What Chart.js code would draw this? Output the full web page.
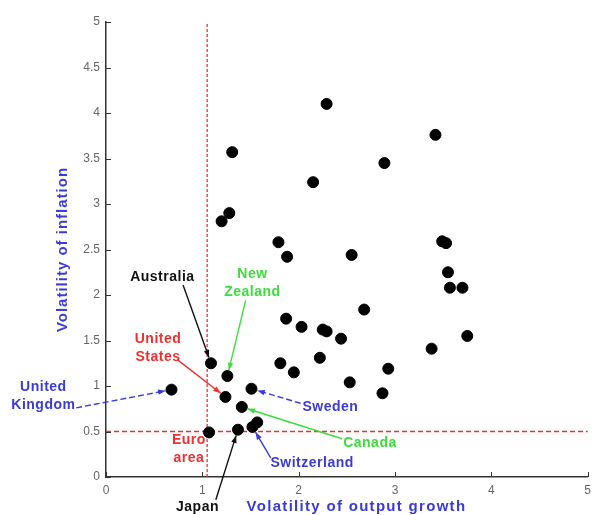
<!DOCTYPE html>
<html>
<head>
<meta charset="utf-8">
<script src="https://cdn.jsdelivr.net/npm/chart.js@4.4.0/dist/chart.umd.min.js"></script>
<style>
  html, body { margin: 0; padding: 0; background: #fff; }
  #wrap { width: 597px; height: 515px; }
</style>
</head>
<body>
<div id="wrap"><canvas id="scatter"></canvas></div>
<script>
// volatility of output growth (x) and of inflation (y), one entry per country
const outputVol = [0.68, 1.07, 1.09, 1.26, 1.24, 1.41, 1.37, 1.51, 1.52, 1.57,
    1.20, 1.28, 1.31, 1.79, 1.88, 1.87, 2.03, 1.81, 1.95, 2.15,
    2.29, 2.55, 2.22, 2.25, 2.29, 2.44, 2.68, 2.53, 2.87, 2.93,
    2.89, 3.42, 3.49, 3.53, 3.55, 3.57, 3.70, 3.75, 3.38];
const inflationVol = [0.96, 0.49, 1.25, 1.11, 0.88, 0.77, 0.52, 0.97, 0.55, 0.60,
    2.81, 2.90, 3.57, 2.58, 2.42, 1.74, 1.65, 1.25, 1.15, 3.24,
    4.10, 2.44, 1.31, 1.62, 1.60, 1.52, 1.84, 1.04, 0.92, 1.19,
    3.45, 3.76, 2.59, 2.57, 2.25, 2.08, 2.08, 1.55, 1.41];
const xTicks = [0, 1, 2, 3, 4, 5];
const yTicks = [0, 0.5, 1, 1.5, 2, 2.5, 3, 3.5, 4, 4.5, 5];
const refOutput = 1.05;   // dashed vertical reference
const refInflation = 0.5; // dashed horizontal reference

// labelled countries and the index of their point
const countries = ['United Kingdom', 'Euro area', 'Australia', 'New Zealand', 'United States',
    'Canada', 'Japan', 'Sweden', 'Switzerland'];
const countryIndex = [0, 1, 2, 3, 4, 5, 6, 7, 8];

const BLUE = '#3a3ad8', GREEN = '#3ddc3d', RED = '#ee3030', BLACK = '#111';

// where each label sits and where its arrow starts (in data units)
const notes = [
    { lines: ['United', 'Kingdom'], color: BLUE, at: [-0.65, 0.99], from: [-0.31, 0.76], dash: [6, 3] },
    { lines: ['Euro', 'area'], color: RED, at: [0.86, 0.40], from: null },
    { lines: ['Australia'], color: BLACK, at: [0.585, 2.20], from: [0.80, 2.11] },
    { lines: ['New', 'Zealand'], color: GREEN, at: [1.52, 2.23], from: [1.45, 1.94] },
    { lines: ['United', 'States'], color: RED, at: [0.54, 1.52], from: [0.74, 1.29] },
    { lines: ['Canada'], color: GREEN, at: [2.74, 0.37], from: [2.45, 0.42] },
    { lines: ['Japan'], color: BLACK, at: [0.95, -0.33], from: [1.14, -0.25] },
    { lines: ['Sweden'], color: BLUE, at: [2.33, 0.77], from: [2.02, 0.81], dash: [6, 3] },
    { lines: ['Switzerland'], color: BLUE, at: [2.14, 0.154], from: [1.71, 0.21] }
];

function arrow(ctx, x1, y1, x2, y2, color, dash) {
    const ang = Math.atan2(y2 - y1, x2 - x1);
    const ex = x2 - Math.cos(ang) * 6, ey = y2 - Math.sin(ang) * 6;
    ctx.save();
    ctx.strokeStyle = color;
    ctx.fillStyle = color;
    ctx.lineWidth = 1.4;
    ctx.setLineDash(dash || []);
    ctx.beginPath();
    ctx.moveTo(x1, y1);
    ctx.lineTo(ex, ey);
    ctx.stroke();
    ctx.setLineDash([]);
    ctx.beginPath();
    ctx.moveTo(ex, ey);
    ctx.lineTo(ex - Math.cos(ang - 0.35) * 8, ey - Math.sin(ang - 0.35) * 8);
    ctx.lineTo(ex - Math.cos(ang + 0.35) * 8, ey - Math.sin(ang + 0.35) * 8);
    ctx.closePath();
    ctx.fill();
    ctx.restore();
}

const decorations = {
    id: 'decorations',
    afterDraw(chart) {
        const ctx = chart.ctx;
        const xs = chart.scales.x, ys = chart.scales.y;
        const area = chart.chartArea;

        // inward tick marks
        ctx.save();
        ctx.strokeStyle = '#333';
        ctx.lineWidth = 1;
        xTicks.forEach(v => {
            const px = Math.round(xs.getPixelForValue(v)) + 0.5;
            ctx.beginPath(); ctx.moveTo(px, area.bottom); ctx.lineTo(px, area.bottom - 5); ctx.stroke();
        });
        yTicks.forEach(v => {
            const py = Math.round(ys.getPixelForValue(v)) + 0.5;
            ctx.beginPath(); ctx.moveTo(area.left, py); ctx.lineTo(area.left + 5, py); ctx.stroke();
        });
        ctx.restore();

        // country labels with arrows
        ctx.save();
        ctx.font = 'bold 14px "Liberation Sans", Arial, sans-serif';
        ctx.letterSpacing = '0.5px';
        ctx.textAlign = 'center';
        ctx.textBaseline = 'middle';
        notes.forEach((n, k) => {
            const cx = xs.getPixelForValue(n.at[0]);
            const cy = ys.getPixelForValue(n.at[1]);
            ctx.fillStyle = n.color;
            n.lines.forEach((t, i) => ctx.fillText(t, cx, cy + i * 18));
            if (n.from) {
                const idx = countryIndex[k];
                arrow(ctx,
                    xs.getPixelForValue(n.from[0]), ys.getPixelForValue(n.from[1]),
                    xs.getPixelForValue(outputVol[idx]), ys.getPixelForValue(inflationVol[idx]),
                    n.color, n.dash);
            }
        });

        // axis titles
        ctx.fillStyle = BLUE;
        ctx.font = 'bold 15px "Liberation Sans", Arial, sans-serif';
        ctx.letterSpacing = '1.3px';
        ctx.fillText('Volatility of output growth', xs.getPixelForValue(2.6), ys.getPixelForValue(-0.33));
        ctx.letterSpacing = '1px';
        ctx.translate(xs.getPixelForValue(-0.45), ys.getPixelForValue(2.5));
        ctx.rotate(-Math.PI / 2);
        ctx.fillText('Volatility of inflation', 0, 0);
        ctx.restore();
    }
};

new Chart(document.getElementById('scatter').getContext('2d'), {
    type: 'scatter',
    data: {
        datasets: [
            {
                label: 'Countries',
                data: outputVol.map((x, i) => ({ x: x, y: inflationVol[i] })),
                backgroundColor: '#000',
                borderColor: '#000',
                pointRadius: 5.5,
                order: 1
            },
            {
                type: 'line',
                label: 'refX',
                data: [{ x: refOutput, y: 0 }, { x: refOutput, y: 5 }],
                borderColor: RED,
                borderWidth: 1.3,
                borderDash: [3, 2],
                pointRadius: 0,
                order: 2
            },
            {
                type: 'line',
                label: 'refY',
                data: [{ x: 0, y: refInflation }, { x: 5.05, y: refInflation }],
                borderColor: RED,
                borderWidth: 1.3,
                borderDash: [5, 3],
                pointRadius: 0,
                order: 2
            }
        ]
    },
    options: {
        responsive: true,
        maintainAspectRatio: false,
        animation: false,
        layout: { padding: { top: 22, right: 9, left: 0, bottom: 0 } },
        plugins: {
            legend: { display: false },
            tooltip: { enabled: false }
        },
        scales: {
            x: {
                type: 'linear',
                min: 0,
                max: 5,
                afterFit: s => { s.height = 38; },
                afterBuildTicks: s => { s.ticks = xTicks.map(v => ({ value: v })); },
                grid: { display: false, drawTicks: false },
                border: { display: true, color: '#333', width: 1.5 },
                ticks: {
                    color: '#666', padding: 6,
                    font: { size: 12, family: '"Liberation Sans", Arial, sans-serif' },
                    callback: v => String(v)
                }
            },
            y: {
                type: 'linear',
                min: 0,
                max: 5,
                afterFit: s => { s.width = 106; },
                afterBuildTicks: s => { s.ticks = yTicks.map(v => ({ value: v })); },
                grid: { display: false, drawTicks: false },
                border: { display: true, color: '#333', width: 1.5 },
                ticks: {
                    color: '#666', padding: 6,
                    font: { size: 12, family: '"Liberation Sans", Arial, sans-serif' },
                    callback: v => String(v)
                }
            }
        }
    },
    plugins: [decorations]
});
</script>
</body>
</html>
